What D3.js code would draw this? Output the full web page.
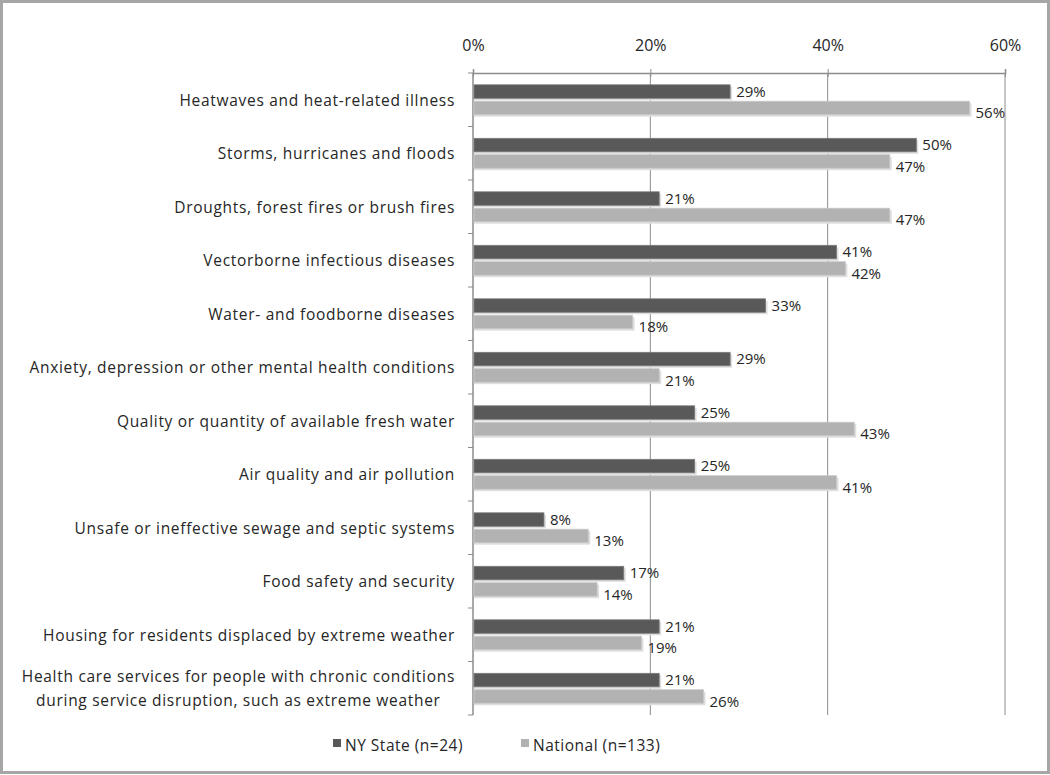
<!DOCTYPE html>
<html>
<head>
<meta charset="utf-8">
<script src="https://cdn.jsdelivr.net/npm/d3@7"></script>
<style>
  html, body { margin: 0; padding: 0; background: #fff; }
  svg { display: block; }
  text { font-family: "Open Sans", Lato, sans-serif; fill: #262626; }
</style>
</head>
<body>
<svg id="chart" width="1050" height="775"></svg>
<script>
const categories = [
  "Heatwaves and heat-related illness",
  "Storms, hurricanes and floods",
  "Droughts, forest fires or brush fires",
  "Vectorborne infectious diseases",
  "Water- and foodborne diseases",
  "Anxiety, depression or other mental health conditions",
  "Quality or quantity of available fresh water",
  "Air quality and air pollution",
  "Unsafe or ineffective sewage and septic systems",
  "Food safety and security",
  "Housing for residents displaced by extreme weather",
  "Health care services for people with chronic conditions|during service disruption, such as extreme weather"
];
const nyState = [29, 50, 21, 41, 33, 29, 25, 25, 8, 17, 21, 21];
const national = [56, 47, 47, 42, 18, 21, 43, 41, 13, 14, 19, 26];
const seriesNames = ["NY State (n=24)", "National (n=133)"];
const seriesColors = ["#595959", "#b2b2b2"];
const tickValues = [0, 20, 40, 60];

const svg = d3.select("#chart");
const W = 1050, H = 775;
const FS = 15.5;
const LS = "0.7px";

// outer frame
svg.append("rect").attr("x", 1.5).attr("y", 1.5).attr("width", W - 3).attr("height", H - 4)
  .attr("fill", "#fff").attr("stroke", "#a6a6a6").attr("stroke-width", 3);

const x = d3.scaleLinear().domain([0, 60]).range([473, 1005]);
const y = d3.scaleBand().domain(d3.range(categories.length)).range([73, 715]).paddingInner(0).paddingOuter(0);
const inner = d3.scaleBand().domain([0, 1]).range([0, y.bandwidth()]).paddingInner(0.18).paddingOuter(0.72);

// gridlines
svg.append("g").selectAll("line").data(tickValues.slice(1)).join("line")
  .attr("x1", d => x(d)).attr("x2", d => x(d))
  .attr("y1", 73).attr("y2", 715)
  .attr("stroke", "#8c8c8c").attr("stroke-width", 1);

// top axis
const xAxis = d3.axisTop(x).tickValues(tickValues).tickFormat(d => d + "%").tickSize(4).tickPadding(18);
const gx = svg.append("g").attr("transform", "translate(0,73)").call(xAxis);
gx.select(".domain").attr("stroke", "#8c8c8c").attr("stroke-width", 1.5);
gx.selectAll(".tick line").attr("stroke", "#8c8c8c").attr("y2", 4).attr("y1", -4);
gx.selectAll(".tick text").attr("font-size", 16).attr("font-family", "'Open Sans', sans-serif").attr("fill", "#262626");

// left axis line + ticks at category boundaries
svg.append("line").attr("x1", 473).attr("x2", 473).attr("y1", 73).attr("y2", 715)
  .attr("stroke", "#8c8c8c").attr("stroke-width", 1.5);
svg.append("g").selectAll("line").data(d3.range(categories.length + 1)).join("line")
  .attr("x1", 468).attr("x2", 473)
  .attr("y1", i => 73 + i * y.bandwidth()).attr("y2", i => 73 + i * y.bandwidth())
  .attr("stroke", "#8c8c8c");

const data = categories.map((c, i) => ({ i, vals: [nyState[i], national[i]] }));

const groups = svg.append("g").selectAll("g").data(data).join("g")
  .attr("transform", d => `translate(0,${y(d.i)})`);

groups.each(function(d) {
  const g = d3.select(this);
  d.vals.forEach((v, s) => {
    const by = inner(s), bh = inner.bandwidth();
    // soft shadow
    g.append("rect").attr("x", x(0) + 1).attr("y", by + 2)
      .attr("width", x(v) - x(0) + 1).attr("height", bh)
      .attr("fill", "#dedede");
    g.append("rect").attr("x", x(0) + 1).attr("y", by)
      .attr("width", x(v) - x(0) - 1).attr("height", bh)
      .attr("fill", seriesColors[s]).attr("stroke", s === 0 ? "#7a7a7a" : "#c8c8c8").attr("stroke-width", 0.8);
    g.append("text").attr("x", x(v) + 6).attr("y", by + bh + (s === 0 ? -1.5 : 3.5))
      .attr("font-size", 15).text(v + "%");
  });
});

// category labels
groups.each(function(d) {
  const g = d3.select(this);
  const lines = categories[d.i].split("|");
  const cy = y.bandwidth() / 2;
  if (lines.length === 1) {
    g.append("text").attr("x", 455).attr("y", cy + 6).attr("text-anchor", "end")
      .attr("font-size", FS).attr("letter-spacing", LS).text(lines[0]);
  } else {
    const t = g.append("text").attr("font-size", FS).attr("letter-spacing", LS).attr("text-anchor", "middle");
    const tmp = lines.map(l => {
      const tt = g.append("text").attr("font-size", FS).attr("letter-spacing", LS).text(l);
      const w = tt.node().getComputedTextLength(); tt.remove(); return w;
    });
    const maxW = d3.max(tmp);
    const cx = 455 - maxW / 2;
    lines.forEach((l, k) => {
      t.append("tspan").attr("x", cx).attr("y", cy + 6 + (k - (lines.length - 1) / 2) * 24).text(l);
    });
  }
});

// legend
const legend = svg.append("g").attr("transform", "translate(0,745)");
const legX = [333, 521];
seriesNames.forEach((n, s) => {
  legend.append("rect").attr("x", legX[s]).attr("y", -6).attr("width", 8).attr("height", 8)
    .attr("fill", seriesColors[s]);
  legend.append("text").attr("x", legX[s] + 12).attr("y", 6).attr("font-size", FS)
    .attr("letter-spacing", "0.5px").text(n);
});
</script>
</body>
</html>
